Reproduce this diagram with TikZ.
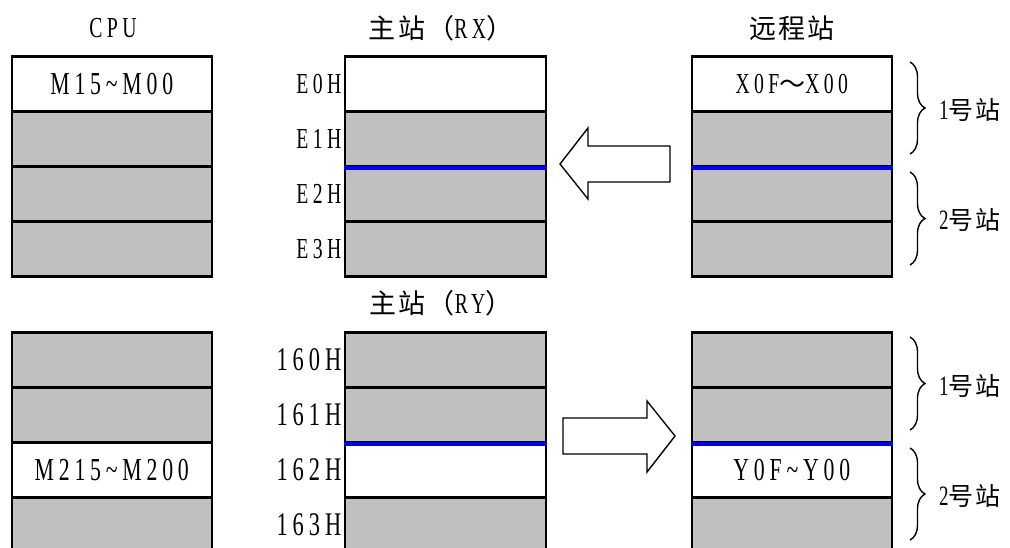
\documentclass[tikz,border=0pt]{standalone}
\usepackage{fontspec}
\newfontfamily\lat[FakeStretch=0.68,LetterSpace=15]{Liberation Serif}
\newfontfamily\cjk[LetterSpace=8]{Noto Sans CJK SC}
\usetikzlibrary{decorations.pathreplacing}
\definecolor{cellgray}{HTML}{C0C0C0}
\definecolor{lineblue}{HTML}{0000FF}
\begin{document}
\begin{tikzpicture}[x=1pt,y=-1pt,
  cell/.style={draw=black,line width=2.6pt,fill=cellgray,minimum width=200pt,minimum height=55pt,inner sep=0pt,anchor=north west,font=\lat\fontsize{32}{32}\selectfont},
  wcell/.style={cell,fill=white},
  addrA/.style={anchor=east,inner sep=0pt,font=\lat\fontsize{29}{29}\selectfont},
  addrB/.style={anchor=east,inner sep=0pt,font=\lat\fontsize{33}{33}\selectfont},
  title/.style={inner sep=0pt,font=\cjk\fontsize{27}{27}\selectfont},
  blueline/.style={draw=lineblue,line width=4pt},
  blockarrow/.style={draw=black,line width=1.4pt,fill=white,line join=miter},
  bracestyle/.style={draw=black,line width=1.4pt,decorate,decoration={brace,amplitude=15pt}},
  stlabel/.style={anchor=west,inner sep=0pt,font=\cjk\fontsize{25}{25}\selectfont}
]
\useasboundingbox (0,0) rectangle (1010,547);
\clip (0,0) rectangle (1010,547);

% titles
\node[title] (tcpu) at (113,28) {\lat\fontsize{29}{29}\selectfont CPU};
\node[title] (trx) at (441,28) {主站（{\lat\fontsize{29}{29}\selectfont RX}）};
\node[title] (tremote) at (792,28) {远程站};
\node[title] (try) at (441,303) {主站（{\lat\fontsize{29}{29}\selectfont RY}）};

% top CPU
\node[wcell] (cA1) at (10.5,55) {M15\textasciitilde M00};
\node[cell] (cA2) at (10.5,110) {};
\node[cell] (cA3) at (10.5,165) {};
\node[cell] (cA4) at (10.5,220) {};
% top master RX
\node[wcell,minimum width=201pt] (mA1) at (343.5,55) {};
\node[cell,minimum width=201pt] (mA2) at (343.5,110) {};
\node[cell,minimum width=201pt] (mA3) at (343.5,165) {};
\node[cell,minimum width=201pt] (mA4) at (343.5,220) {};
% top remote
\node[wcell,font=\lat\fontsize{29}{29}\selectfont] (rA1) at (690.5,55) {X0F{\cjk\fontsize{26}{26}\selectfont ～}X00};
\node[cell] (rA2) at (690.5,110) {};
\node[cell] (rA3) at (690.5,165) {};
\node[cell] (rA4) at (690.5,220) {};

\draw[blueline] (mA2.south west) -- (mA2.south east);
\draw[blueline] (rA2.south west) -- (rA2.south east);

\node[addrA] (eA) at ([xshift=-2pt]mA1.west) {E0H};
\node[addrA] (eB) at ([xshift=-2pt]mA2.west) {E1H};
\node[addrA] (eC) at ([xshift=-2pt]mA3.west) {E2H};
\node[addrA] (eD) at ([xshift=-2pt]mA4.west) {E3H};

% bottom CPU
\node[cell] (cB1) at (10.5,331) {};
\node[cell] (cB2) at (10.5,386) {};
\node[wcell] (cB3) at (10.5,441) {M215\textasciitilde M200};
\node[cell] (cB4) at (10.5,496) {};
% bottom master RY
\node[cell,minimum width=201pt] (mB1) at (343.5,331) {};
\node[cell,minimum width=201pt] (mB2) at (343.5,386) {};
\node[wcell,minimum width=201pt] (mB3) at (343.5,441) {};
\node[cell,minimum width=201pt] (mB4) at (343.5,496) {};
% bottom remote
\node[cell] (rB1) at (690.5,331) {};
\node[cell] (rB2) at (690.5,386) {};
\node[wcell] (rB3) at (690.5,441) {Y0F\textasciitilde Y00};
\node[cell] (rB4) at (690.5,496) {};

\draw[blueline] (mB2.south west) -- (mB2.south east);
\draw[blueline] (rB2.south west) -- (rB2.south east);

\node[addrB] (hA) at ([xshift=-2pt]mB1.west) {160H};
\node[addrB] (hB) at ([xshift=-2pt]mB2.west) {161H};
\node[addrB] (hC) at ([xshift=-2pt]mB3.west) {162H};
\node[addrB] (hD) at ([xshift=-2pt]mB4.west) {163H};

% block arrows
\draw[blockarrow] (560,164) -- (588,128) -- (588,146) -- (670,146) -- (670,182) -- (588,182) -- (588,199) -- cycle;
\draw[blockarrow] (675,436) -- (647,401) -- (647,418) -- (563,418) -- (563,454) -- (647,454) -- (647,472) -- cycle;

% braces
\coordinate (bA1) at (910,62);  \coordinate (bA2) at (910,154);
\coordinate (bB1) at (910,172); \coordinate (bB2) at (910,265);
\coordinate (bC1) at (910,337); \coordinate (bC2) at (910,430);
\coordinate (bD1) at (910,448); \coordinate (bD2) at (910,540);
\draw[bracestyle] (bA1) -- (bA2);
\draw[bracestyle] (bB1) -- (bB2);
\draw[bracestyle] (bC1) -- (bC2);
\draw[bracestyle] (bD1) -- (bD2);

\node[stlabel] (sA) at (939,110) {{\lat\fontsize{28}{28}\selectfont 1}号站};
\node[stlabel] (sB) at (939,220) {{\lat\fontsize{28}{28}\selectfont 2}号站};
\node[stlabel] (sC) at (939,386) {{\lat\fontsize{28}{28}\selectfont 1}号站};
\node[stlabel] (sD) at (939,496) {{\lat\fontsize{28}{28}\selectfont 2}号站};
\end{tikzpicture}
\end{document}
